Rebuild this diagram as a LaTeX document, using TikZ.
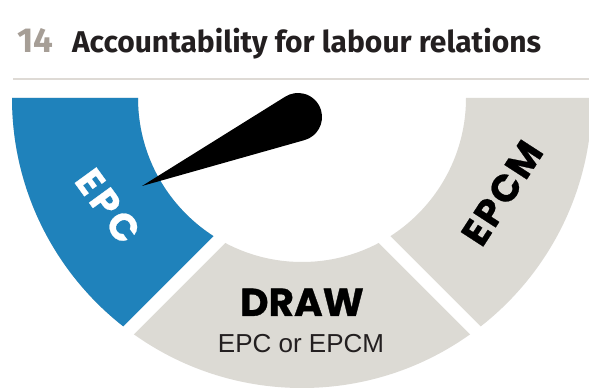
\documentclass[tikz,border=0pt]{standalone}
\usepackage{fontspec}
\setmainfont{Liberation Sans}
\newfontfamily\titlefont{Fira Sans}
\newfontfamily\popfont{Poppins}
\usepackage{graphicx}
\usetikzlibrary{calc}
\definecolor{epcblue}{RGB}{31,130,187}
\definecolor{ringgray}{RGB}{220,218,212}
\definecolor{numgray}{RGB}{166,158,150}
\definecolor{rulegray}{RGB}{222,218,213}
\definecolor{titleink}{RGB}{35,31,32}
\begin{document}
\begin{tikzpicture}[x=1pt,y=1pt,
  lbl/.style={inner sep=0pt, outer sep=0pt},
  gap/.style={draw=white, line width=13pt}]
\useasboundingbox (0,0) rectangle (589,388);
\fill[white] (0,0) rectangle (589,388);
% title
\node[lbl, anchor=base west, text=numgray] (num) at (17,335)
  {\resizebox{36pt}{24pt}{\titlefont\bfseries 14}};
\node[lbl, anchor=base west, text=titleink] (title) at (72,335)
  {\resizebox{469pt}{!}{\titlefont\bfseries Accountability for labour relations}};
\coordinate (ruleL) at (13,309);
\coordinate (ruleR) at (589,309);
\draw[rulegray, line width=2.5pt] (ruleL) -- (ruleR);
% gauge
\coordinate (C) at (302,290);
\coordinate (P) at (302,231);
\fill[ringgray] ([shift={(180:290)}]C) arc[start angle=180, end angle=360, radius=290]
  -- ([shift={(0:164)}]C) arc[start angle=0, end angle=-180, radius=164] -- cycle;
\begin{scope}
  \clip ([shift={(180:290)}]C) arc[start angle=180, end angle=360, radius=290]
    -- ([shift={(0:164)}]C) arc[start angle=0, end angle=-180, radius=164] -- cycle;
  \fill[epcblue] (P) -- ++(-400,-400) -- ++(0,700) -- (302,500) -- cycle;
\end{scope}
\coordinate (gapL) at ($(P)+(-200,-200)$);
\coordinate (gapR) at ($(P)+(200,-200)$);
\draw[gap] (P) -- (gapL);
\draw[gap] (P) -- (gapR);
% needle
\coordinate (tip) at (142,202);
\coordinate (piv) at (298,271);
\fill[black] (tip) -- (304.5,247.9) arc[start angle=-74.3, end angle=121.9, radius=24] -- cycle;
% labels
\node[lbl, text=white, rotate=-54] (epc) at (108,182)
  {\fontsize{38}{38}\popfont\bfseries\addfontfeature{FakeBold=0.6,LetterSpace=10}EPC};
\node[lbl, text=black, rotate=57] (epcm) at (502,195)
  {\fontsize{38}{38}\popfont\bfseries\addfontfeature{FakeBold=0.6,LetterSpace=6}EPCM};
\node[lbl, anchor=base, text=black] (draw) at (302,72)
  {\fontsize{39}{39}\popfont\bfseries\addfontfeature{FakeBold=0.8}DRAW};
\node[lbl, anchor=base, text=titleink] (sub) at (301,35)
  {\fontsize{26}{26}\selectfont EPC or EPCM};
\end{tikzpicture}
\end{document}
